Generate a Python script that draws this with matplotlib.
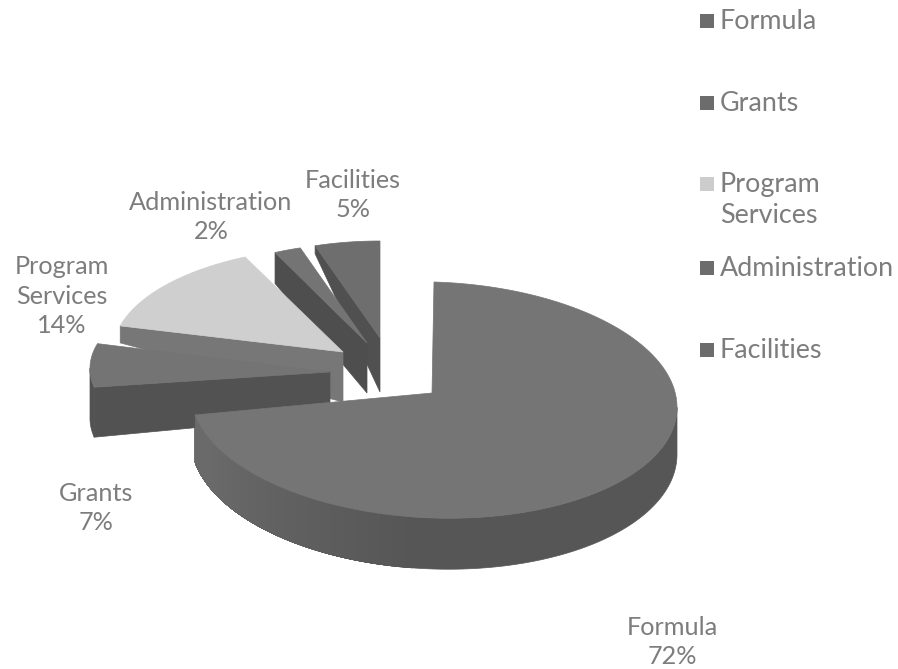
import numpy as np
import matplotlib
matplotlib.use("Agg")
import matplotlib.pyplot as plt
from matplotlib.patches import Polygon
from matplotlib.colors import to_rgb

plt.rcParams["font.family"] = ["Lato", "DejaVu Sans"]

categories = ["Formula", "Grants", "Program\nServices", "Administration", "Facilities"]
shares = [72, 7, 14, 2, 5]

# layout of each exploded slice, in image pixels (same order as categories)
layout = [
    dict(apex=(432, 393), centre=(434, 400), rx=243, ry=118, shear=0.03, d_apex=0, d_side=47, d_front=51,
         top="#757575", wall="#585858", side="#565656", side_left="#6a6a6a", label=(672, 642), key_y=21),
    dict(apex=(330, 372), centre=(330, 372), rx=240, ry=100, shear=0.015, d_apex=43, d_side=50, d_front=50,
         top="#747474", wall="#525252", side="#525252", side_left="#525252", label=(96, 508), key_y=103),
    dict(apex=(343, 352), centre=(343, 352), rx=230, ry=105, shear=0, d_apex=50, d_side=17, d_front=17,
         top="#cfcfcf", wall="#777777", side="#777777", side_left="#777777", label=(62, 296), key_y=184),
    dict(apex=(367, 343), centre=(367, 343), rx=216, ry=100, shear=0, d_apex=50, d_side=31, d_front=31,
         top="#747474", wall="#4e4e4e", side="#4e4e4e", side_left="#4e4e4e", label=(211, 217), key_y=268),
    dict(apex=(380, 338), centre=(380, 338), rx=210, ry=97, shear=0, d_apex=54, d_side=8, d_front=8,
         top="#6e6e6e", wall="#505050", side="#505050", side_left="#505050", label=(353, 195), key_y=350),
]

text_col = "#7d7d7d"


def arc_points(s, t):
    # t is clockwise from the top of the pie, degrees
    r = np.radians(t)
    x = s["centre"][0] + s["rx"] * np.sin(r)
    y = s["centre"][1] - s["ry"] * np.cos(r) + s["shear"] * s["rx"] * np.sin(r)
    return x, y


def depth(s, t):
    return s["d_side"] + (s["d_front"] - s["d_side"]) * np.maximum(0, -np.cos(np.radians(t)))


def draw_rim(ax, s, a, b, col):
    rim = np.linspace(a, b, 200)
    rx, ry = arc_points(s, rim)
    pts = list(zip(rx, ry)) + list(zip(rx[::-1], (ry + depth(s, rim))[::-1]))
    ax.add_patch(Polygon(pts, fc=col, ec=col, lw=0.5))


def draw_slice(ax, s, t0, t1):
    ts = np.linspace(t0, t1, 200)
    x, y = arc_points(s, ts)

    # cut face along the first edge, only seen on the slices pulled away
    if s["d_apex"] > 0:
        ax.add_patch(Polygon([s["apex"], (x[0], y[0]), (x[0], y[0] + depth(s, t0)),
                              (s["apex"][0], s["apex"][1] + s["d_apex"])],
                             fc=s["wall"], ec=s["wall"], lw=0.5))

    # rim facing the viewer, a little lighter towards the left
    a, b = max(t0, 90), min(t1, 270)
    if b > a:
        draw_rim(ax, s, a, b, s["side"])
        dark, light = np.array(to_rgb(s["side"])), np.array(to_rgb(s["side_left"]))
        if s["side"] != s["side_left"]:
            for p in np.linspace(185, 245, 40):
                draw_rim(ax, s, p, b, dark + (light - dark) * (p - 185) / 60)

    top = [s["apex"]] + list(zip(x, y))
    ax.add_patch(Polygon(top, fc=s["top"], ec=s["top"], lw=0.5))


fig = plt.figure(figsize=(8.98, 6.69), dpi=100)
ax = fig.add_axes([0, 0, 1, 1])
ax.set_xlim(0, 898)
ax.set_ylim(669, 0)
ax.axis("off")

edges = np.cumsum([0] + shares) / sum(shares) * 360

# back to front
for i in [4, 3, 2, 1, 0]:
    draw_slice(ax, layout[i], edges[i], edges[i + 1])

for name, pct, s in zip(categories, shares, layout):
    ax.text(s["label"][0], s["label"][1], name + "\n" + str(pct) + "%", ha="center", va="center",
            fontsize=18.2, color=text_col, linespacing=1.33)

# legend
for name, s in zip(categories, layout):
    col = "#cccccc" if s["top"] == "#cfcfcf" else "#6c6c6c"
    ax.scatter([706.5], [s["key_y"]], marker="s", s=115, color=col, linewidths=0)
    ax.text(720, s["key_y"] - 12, name, ha="left", va="top", fontsize=19.4,
            color=text_col, linespacing=1.32)

fig.savefig("out.png", dpi=100)
